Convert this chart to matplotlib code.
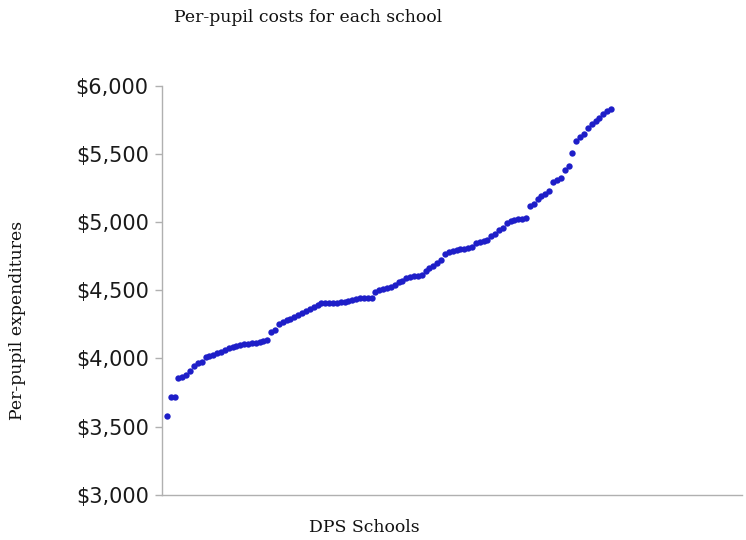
import matplotlib
matplotlib.use("Agg")
import matplotlib.pyplot as plt
from matplotlib.ticker import FuncFormatter

title = "Per-pupil costs for each school"
x_label = "DPS Schools"
y_label = "Per-pupil expenditures"
y_ticks = [3000, 3500, 4000, 4500, 5000, 5500, 6000]

costs = [
    3574, 3713, 3713, 3855, 3860, 3880, 3910, 3945, 3965, 3975,
    4008, 4015, 4022, 4040, 4050, 4063, 4075, 4082, 4088, 4097,
    4105, 4108, 4110, 4113, 4117, 4125, 4135, 4195, 4205, 4255,
    4268, 4280, 4292, 4305, 4318, 4332, 4350, 4365, 4378, 4392,
    4403, 4405, 4406, 4408, 4410, 4412, 4415, 4420, 4430, 4438,
    4440, 4440, 4442, 4444, 4490, 4505, 4510, 4515, 4525, 4540,
    4560, 4570, 4590, 4598, 4602, 4608, 4615, 4640, 4660, 4680,
    4700, 4720, 4765, 4780, 4790, 4795, 4800, 4802, 4808, 4820,
    4845, 4855, 4862, 4870, 4895, 4910, 4945, 4960, 4990, 5005,
    5015, 5020, 5025, 5030, 5120, 5130, 5170, 5195, 5210, 5230,
    5295, 5310, 5325, 5385, 5410, 5505, 5595, 5625, 5645, 5690,
    5720, 5745, 5765, 5790, 5815, 5828,
]
schools = list(range(len(costs)))

fig = plt.figure(figsize=(7.46, 5.40), dpi=100)
ax = fig.add_axes([0.217, 0.084, 0.778, 0.757])

ax.scatter(schools, costs, s=21, color="#1e1ec8", marker="o", linewidths=0, zorder=3)

ax.set_ylim(3000, 6000)
ax.set_xlim(-1.3, 149)
ax.set_yticks(y_ticks)
ax.yaxis.set_major_formatter(FuncFormatter(lambda v, p: f"${v:,.0f}"))
ax.set_xticks([])

for s in ["top", "right"]:
    ax.spines[s].set_visible(False)
for s in ["left", "bottom"]:
    ax.spines[s].set_color("#b0b0b0")
    ax.spines[s].set_linewidth(1.0)

ax.tick_params(axis="y", length=5, width=1, color="#b0b0b0", pad=4.5,
               labelsize=15, labelcolor="#1a1a1a")
for lbl in ax.get_yticklabels():
    lbl.set_fontfamily("DejaVu Sans")

serif = ["DejaVu Serif"]
fig.text(0.4135, 0.967, title, ha="center", va="center", fontsize=12.4,
         family=serif, color="#111111")
fig.text(0.489, 0.024, x_label, ha="center", va="center", fontsize=12.4,
         family=serif, color="#111111")
fig.text(0.024, 0.406, y_label, ha="center", va="center", rotation=90,
         fontsize=12.4, family=serif, color="#111111")

fig.savefig("out.png", dpi=100)
